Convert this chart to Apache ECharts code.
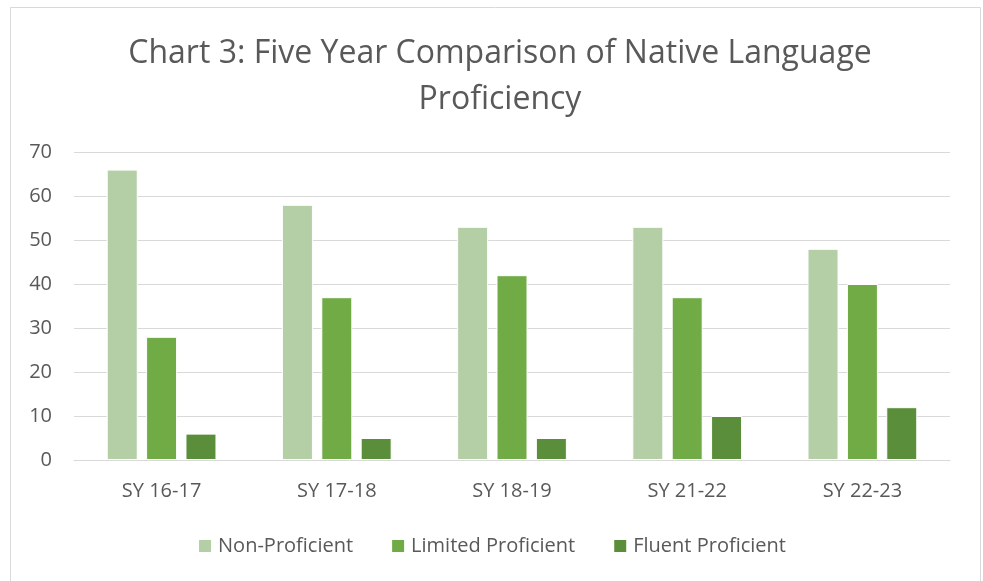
<!DOCTYPE html>
<html>
<head>
<meta charset="utf-8">
<script src="https://cdn.jsdelivr.net/npm/echarts@6/dist/echarts.min.js"></script>
<style>
  html, body { margin: 0; padding: 0; background: #fff; }
  #chart { width: 983px; height: 581px; }
</style>
</head>
<body>
<div id="chart"></div>
<script>
const years = ['SY 16-17', 'SY 17-18', 'SY 18-19', 'SY 21-22', 'SY 22-23']
const nonProficient = [66, 58, 53, 53, 48]
const limitedProficient = [28, 37, 42, 37, 40]
const fluentProficient = [6, 5, 5, 10, 12]

const font = 'Open Sans'
const textColor = '#595959'

const chart = echarts.init(document.getElementById('chart'))

const barStyle = color => ({
  color: color,
  borderColor: '#fff',
  borderWidth: 1
})

chart.setOption({
  animation: false,
  graphic: [{
    type: 'rect',
    shape: { x: 10.5, y: 7.5, width: 970, height: 600 },
    style: { fill: 'none', stroke: '#d9d9d9', lineWidth: 1 }
  }],
  title: {
    text: 'Chart 3: Five Year Comparison of Native Language\nProficiency',
    left: 495,
    textAlign: 'center',
    top: 26,
    textStyle: {
      fontFamily: font,
      fontSize: 32,
      fontWeight: 'normal',
      color: textColor,
      lineHeight: 46
    }
  },
  legend: {
    top: 531,
    left: 'center',
    itemWidth: 14,
    itemHeight: 14,
    itemGap: 37,
    icon: 'rect',
    textStyle: { fontFamily: font, fontSize: 20, color: textColor, padding: [0, 0, 0, 1] }
  },
  grid: { left: 74, right: 33, top: 152, bottom: 121 },
  xAxis: {
    type: 'category',
    data: years,
    axisTick: { show: false },
    axisLine: { lineStyle: { color: '#d9d9d9', width: 1 } },
    axisLabel: { fontFamily: font, fontSize: 20, color: textColor, margin: 21 }
  },
  yAxis: {
    type: 'value',
    min: 0,
    max: 70,
    interval: 10,
    axisLine: { show: false },
    axisTick: { show: false },
    splitLine: { lineStyle: { color: '#d9d9d9', width: 1 } },
    axisLabel: { fontFamily: font, fontSize: 20, color: textColor, margin: 22 }
  },
  series: [
    { name: 'Non-Proficient', type: 'bar', data: nonProficient, barWidth: 31, barGap: '27%', itemStyle: barStyle('#b4cea6') },
    { name: 'Limited Proficient', type: 'bar', data: limitedProficient, barWidth: 31, barGap: '27%', itemStyle: barStyle('#70ab46') },
    { name: 'Fluent Proficient', type: 'bar', data: fluentProficient, barWidth: 31, barGap: '27%', itemStyle: barStyle('#5b8e3a') }
  ]
})
</script>
</body>
</html>
